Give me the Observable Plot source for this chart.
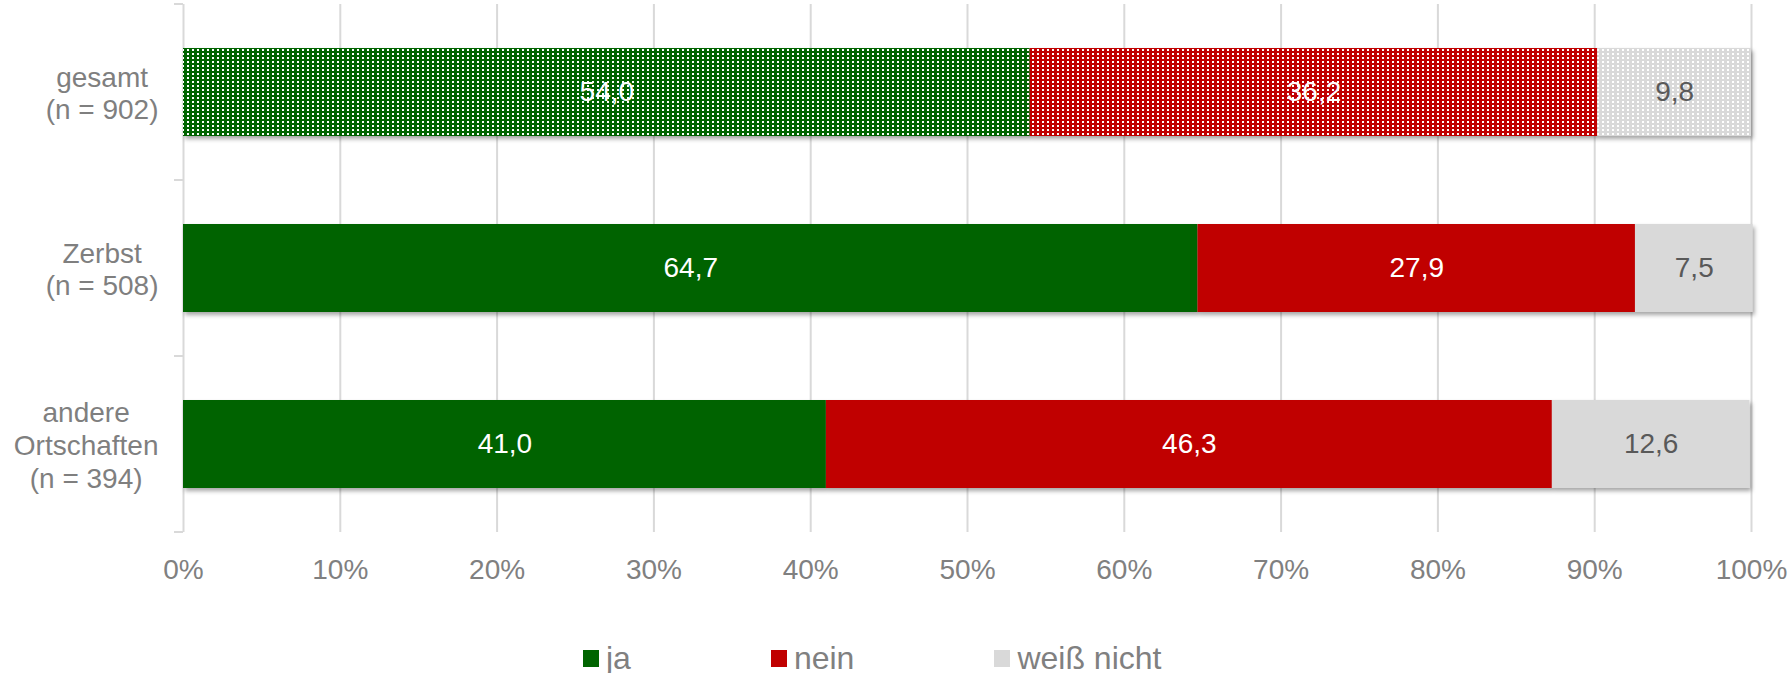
<!DOCTYPE html>
<html>
<head>
<meta charset="utf-8">
<script src="https://cdn.jsdelivr.net/npm/d3@7"></script>
<script src="https://cdn.jsdelivr.net/npm/@observablehq/plot@0.6"></script>
<style>
  html, body { margin: 0; padding: 0; background: #fff; }
  body { width: 1792px; height: 673px; overflow: hidden; font-family: "Liberation Sans", Arial, sans-serif; }
  #legend { position: relative; height: 73px; }
  #legend .items { position: absolute; left: 583px; top: 40px; display: flex; gap: 140px; align-items: center; }
  #legend .item { display: flex; align-items: center; gap: 7px; font-size: 32px; color: #808080; line-height: 36px; }
  #legend .sw { width: 16px; height: 17px; display: inline-block; }
</style>
</head>
<body>
<div id="chart"></div>
<div id="legend"><div class="items"></div></div>
<script>
// ---- data ----
const categories = ["gesamt\n(n = 902)", "Zerbst\n(n = 508)", "andere\nOrtschaften\n(n = 394)"];
const seriesNames = ["ja", "nein", "weiß nicht"];
const ja = [54.0, 64.7, 41.0];
const nein = [36.2, 27.9, 46.3];
const weissNicht = [9.8, 7.5, 12.6];
const xTicks = [0, 10, 20, 30, 40, 50, 60, 70, 80, 90, 100];

// ---- styles ----
const solidColors = {"ja": "#006400", "nein": "#C00000", "weiß nicht": "#D9D9D9"};
const patternIds = {"ja": "patJa", "nein": "patNein", "weiß nicht": "patWn"};
const labelColors = {"ja": "#FFFFFF", "nein": "#FFFFFF", "weiß nicht": "#595959"};
const patternedCategory = categories[0];
const FONT = '"Liberation Sans", Arial, sans-serif';

// ---- table ----
const seriesValues = [ja, nein, weissNicht];
const rows = [];
categories.forEach((cat, i) => {
  let acc = 0;
  seriesNames.forEach((s, j) => {
    const v = seriesValues[j][i];
    rows.push({cat, series: s, value: v, x1: acc, x2: acc + v,
      fill: cat === patternedCategory ? `url(#${patternIds[s]})` : solidColors[s],
      textFill: labelColors[s]});
    acc += v;
  });
});

// measure category label blocks for centered multi-line labels
const CAT_FS = 28;
const ctx = document.createElement("canvas").getContext("2d");
ctx.font = `${CAT_FS}px ${FONT}`;
const catLabelMarks = categories.map(cat => {
  const w = Math.max(...cat.split("\n").map(l => ctx.measureText(l).width));
  return Plot.text([cat], {
    frameAnchor: "left", y: d => d, text: d => d,
    dx: -(25 + w / 2), textAnchor: "middle", lineAnchor: "middle", lineHeight: 1.17,
    fontSize: CAT_FS, fill: "#7F7F7F"
  });
});

const chart = Plot.plot({
  width: 1792,
  height: 600,
  marginLeft: 183,
  marginRight: 41,
  marginTop: 4,
  marginBottom: 68,
  style: {fontFamily: FONT, background: "#fff", overflow: "visible"},
  x: {domain: [0, 100], axis: null},
  y: {domain: categories, paddingInner: 0.5, paddingOuter: 0.25, axis: null},
  color: {type: "identity"},
  marks: [
    Plot.gridX(xTicks, {stroke: "#D9D9D9", strokeOpacity: 1, strokeWidth: 2}),
    Plot.axisX({ticks: xTicks, tickFormat: d => d + "%", tickSize: 0, tickPadding: 27, fontSize: 28, fill: "#808080"}),
    Plot.barX(rows, {x1: "x1", x2: "x2", y: "cat", fill: "fill"}),
    Plot.text(rows, {x: d => (d.x1 + d.x2) / 2, y: "cat", text: d => d.value.toFixed(1).replace(".", ","), fill: "textFill", fontSize: 28}),
    ...catLabelMarks
  ]
});

// defs: patterns and shadow
const svg = d3.select(chart);
const defs = svg.insert("defs", ":first-child");
seriesNames.forEach(s => {
  const p = defs.append("pattern").attr("id", patternIds[s]).attr("patternUnits", "userSpaceOnUse")
    .attr("width", 5).attr("height", 4);
  p.append("rect").attr("width", 5).attr("height", 4).attr("fill", solidColors[s]);
  p.append("rect").attr("x", 2).attr("y", 1).attr("width", 2).attr("height", 2).attr("fill", "#FFFFFF");
});
const f = defs.append("filter").attr("id", "shadow").attr("x", "-5%").attr("y", "-20%").attr("width", "115%").attr("height", "150%");
f.append("feDropShadow").attr("dx", 2).attr("dy", 3).attr("stdDeviation", 2).attr("flood-color", "#000").attr("flood-opacity", 0.35);
svg.selectAll('g[aria-label="bar"]').attr("filter", "url(#shadow)");

// category separator ticks derived from the y band scale
const ys = chart.scale("y");
const xs = chart.scale("x");
const step = ys.step, bw = ys.bandwidth;
const x0 = xs.apply(0);
const bounds = categories.map(c => ys.apply(c) - (step - bw) / 2);
bounds.push(ys.apply(categories[categories.length - 1]) + bw + (step - bw) / 2);
const tg = svg.append("g").attr("stroke", "#D9D9D9").attr("stroke-width", 2);
bounds.forEach(b => tg.append("line").attr("x1", x0 - 9).attr("x2", x0).attr("y1", b).attr("y2", b));

document.getElementById("chart").appendChild(chart);

// legend
const items = d3.select("#legend .items");
seriesNames.forEach(s => {
  const it = items.append("div").attr("class", "item");
  it.append("span").attr("class", "sw").style("background", solidColors[s]);
  it.append("span").text(s);
});
</script>
</body>
</html>
